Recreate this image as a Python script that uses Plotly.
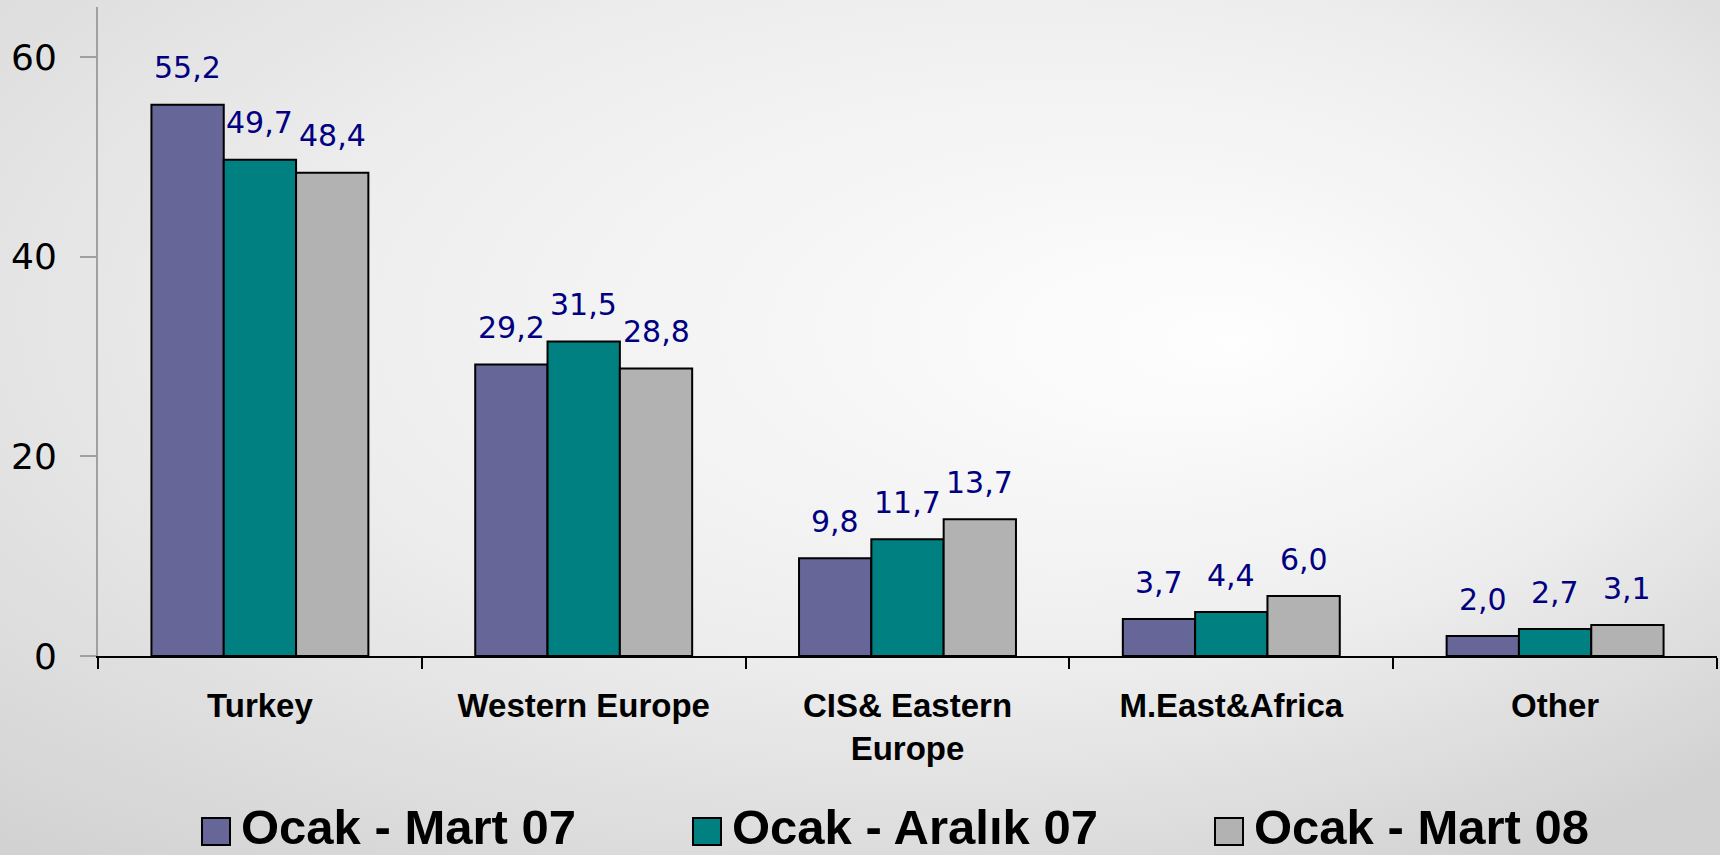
import base64
import plotly.graph_objects as go

# ---------------- data ----------------
categories = ["Turkey", "Western Europe", "CIS& Eastern Europe", "M.East&Africa", "Other"]
series_names = ["Ocak - Mart 07", "Ocak - Aralık 07", "Ocak - Mart 08"]
ocak_mart_07 = [55.2, 29.2, 9.8, 3.7, 2.0]
ocak_aralik_07 = [49.7, 31.5, 11.7, 4.4, 2.7]
ocak_mart_08 = [48.4, 28.8, 13.7, 6.0, 3.1]
y_ticks = [0, 20, 40, 60]

series_values = [ocak_mart_07, ocak_aralik_07, ocak_mart_08]
colors = ["#666699", "#008080", "#B2B2B2"]

# ---------------- layout geometry ----------------
W, H = 1720, 855
L, R, T, B = 98, 3, 7, 199
PW, PH = W - L - R, H - T - B
BARGAP = 0.33


def px_to_paper_x(X):
    return (X - L) / PW


def px_to_paper_y(Y):
    return (H - B - Y) / PH


# background gradient as inline SVG
svg = (
    f'<svg xmlns="http://www.w3.org/2000/svg" width="{W}" height="{H}" '
    f'viewBox="0 0 {W} {H}" preserveAspectRatio="none">'
    '<defs><radialGradient id="g" cx="0.45" cy="0.35" r="0.78" fx="0.72" fy="0.40">'
    '<stop offset="0" stop-color="#fefefe"/>'
    '<stop offset="0.5" stop-color="#eeeeee"/>'
    '<stop offset="1" stop-color="#d2d2d2"/>'
    '</radialGradient></defs>'
    f'<rect width="{W}" height="{H}" fill="url(#g)"/></svg>'
)
bg_uri = "data:image/svg+xml;base64," + base64.b64encode(svg.encode()).decode()

fig = go.Figure()
for name, vals, col in zip(series_names, series_values, colors):
    fig.add_trace(
        go.Bar(
            x=categories,
            y=vals,
            name=name,
            marker=dict(color=col, line=dict(color="#000000", width=2)),
            showlegend=False,
        )
    )

# value labels (above each bar)
bar_w = (PW / len(categories)) * (1 - BARGAP) / len(series_names)
annotations = []
for i, vals in enumerate(series_values):
    for cat, v in zip(categories, vals):
        annotations.append(
            dict(
                x=cat,
                y=v,
                xref="x",
                yref="y",
                text=f"{v:.1f}".replace(".", ","),
                showarrow=False,
                xshift=(i - (len(series_names) - 1) / 2) * bar_w,
                yshift=37,
                yanchor="middle",
                xanchor="center",
                font=dict(family="DejaVu Sans", size=30, color="#000080"),
            )
        )

# manual legend (big swatches)
legend_sq_x = [202, 693, 1215]
shapes = []
for i, (name, col) in enumerate(zip(series_names, colors)):
    x0 = legend_sq_x[i]
    shapes.append(
        dict(
            type="rect",
            xref="paper",
            yref="paper",
            x0=px_to_paper_x(x0),
            x1=px_to_paper_x(x0 + 28),
            y0=px_to_paper_y(845),
            y1=px_to_paper_y(818),
            fillcolor=col,
            line=dict(color="#000000", width=2),
            layer="above",
        )
    )
    annotations.append(
        dict(
            x=px_to_paper_x(x0 + 38),
            y=px_to_paper_y(827),
            xref="paper",
            yref="paper",
            text=f"<b>{name}</b>",
            showarrow=False,
            xanchor="left",
            yanchor="middle",
            borderpad=0,
            font=dict(family="Liberation Sans", size=49, color="#000000"),
        )
    )

fig.update_layout(
    width=W,
    height=H,
    margin=dict(l=L, r=R, t=T, b=B, pad=0),
    paper_bgcolor="#e2e2e2",
    plot_bgcolor="rgba(0,0,0,0)",
    barmode="group",
    bargap=BARGAP,
    bargroupgap=0,
    showlegend=False,
    annotations=annotations,
    shapes=shapes,
    images=[
        dict(
            source=bg_uri,
            xref="paper",
            yref="paper",
            x=-L / PW,
            y=1 + T / PH,
            sizex=W / PW,
            sizey=H / PH,
            xanchor="left",
            yanchor="top",
            sizing="stretch",
            layer="below",
        )
    ],
    xaxis=dict(
        showline=True,
        linecolor="#000000",
        linewidth=2,
        ticks="outside",
        ticklen=11,
        tickwidth=2,
        tickcolor="#000000",
        tickson="boundaries",
        showgrid=False,
        labelalias={"CIS& Eastern Europe": "CIS& Eastern<br>Europe"},
        tickfont=dict(family="Liberation Sans", size=33, color="#000000", weight="bold"),
        ticklabelstandoff=19,
    ),
    yaxis=dict(
        range=[0, 65],
        tickvals=y_ticks,
        showline=True,
        linecolor="#A0A0A0",
        linewidth=2,
        ticks="outside",
        ticklen=16,
        tickwidth=2,
        tickcolor="#A0A0A0",
        showgrid=False,
        zeroline=False,
        tickfont=dict(family="DejaVu Sans", size=36, color="#000000"),
        ticklabelstandoff=16,
    ),
)

fig.write_html(
    "out.html",
    config={"displayModeBar": False},
    post_script="document.body.style.margin='0';document.body.style.padding='0';"
    "document.documentElement.style.overflow='hidden';",
)
